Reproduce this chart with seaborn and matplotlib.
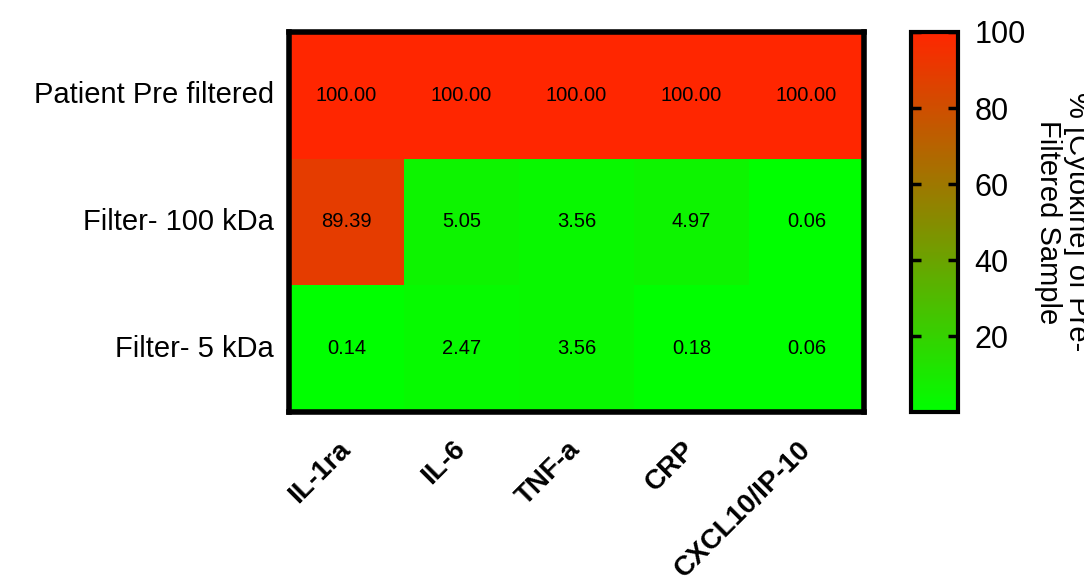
import numpy as np
import pandas as pd
import matplotlib
matplotlib.use("Agg")
import matplotlib.pyplot as plt
from matplotlib.colors import LinearSegmentedColormap
import seaborn as sns

# values (% of pre-filtered sample)
samples = ["Patient Pre filtered", "Filter- 100 kDa", "Filter- 5 kDa"]
cytokines = ["IL-1ra", "IL-6", "TNF-a", "CRP", "CXCL10/IP-10"]
pre_filtered = [100.00, 100.00, 100.00, 100.00, 100.00]
filter_100kda = [89.39, 5.05, 3.56, 4.97, 0.06]
filter_5kda = [0.14, 2.47, 3.56, 0.18, 0.06]
cbar_ticks = [20, 40, 60, 80, 100]

df = pd.DataFrame([pre_filtered, filter_100kda, filter_5kda],
                  index=samples, columns=cytokines)

sns.set_style("white")
plt.rcParams['font.family'] = ['Liberation Sans', 'DejaVu Sans']
plt.rcParams['text.color'] = 'black'
plt.rcParams['xtick.color'] = 'black'
plt.rcParams['ytick.color'] = 'black'
plt.rcParams['axes.labelcolor'] = 'black'

# green -> red colour ramp
cmap = LinearSegmentedColormap.from_list(
    "green_red", [(0.0, "#00ff00"), (0.5, "#868c00"), (1.0, "#ff2600")])

fig = plt.figure(figsize=(10.84, 5.77), dpi=100)
ax = fig.add_axes([0.2666, 0.286, 0.5305, 0.6586])
cax = fig.add_axes([0.8404, 0.286, 0.0434, 0.6586])

sns.heatmap(df, ax=ax, cbar_ax=cax, cmap=cmap, vmax=100,
            annot=True, fmt=".2f",
            annot_kws={"color": "black", "fontsize": 14.5})

# thick black frame around the heatmap
for s in ax.spines.values():
    s.set_visible(True)
    s.set_linewidth(4)
    s.set_color("black")

ax.tick_params(axis="both", length=0)
ax.tick_params(axis="y", pad=11)
ax.set_yticklabels(samples, rotation=0, fontsize=21)
ax.set_xticklabels(cytokines, rotation=45, ha="right", va="center",
                   rotation_mode="anchor", fontsize=20, fontweight="bold")
ax.tick_params(axis="x", pad=24)
ax.set_xlabel("")
ax.set_ylabel("")

# colorbar styling
cbar = ax.collections[0].colorbar
cbar.outline.set_linewidth(3)
cbar.outline.set_edgecolor("black")
cbar.set_ticks(cbar_ticks)
cax.set_axisbelow(False)
cax.tick_params(axis="y", direction="in", length=7, width=2.5,
                left=True, right=True, labelsize=22, pad=12)
cbar.set_label("% [Cytokine] of Pre-\nFiltered Sample", rotation=270,
               fontsize=21, va="bottom", labelpad=6, linespacing=1.05)

fig.savefig("out.png", dpi=100)
